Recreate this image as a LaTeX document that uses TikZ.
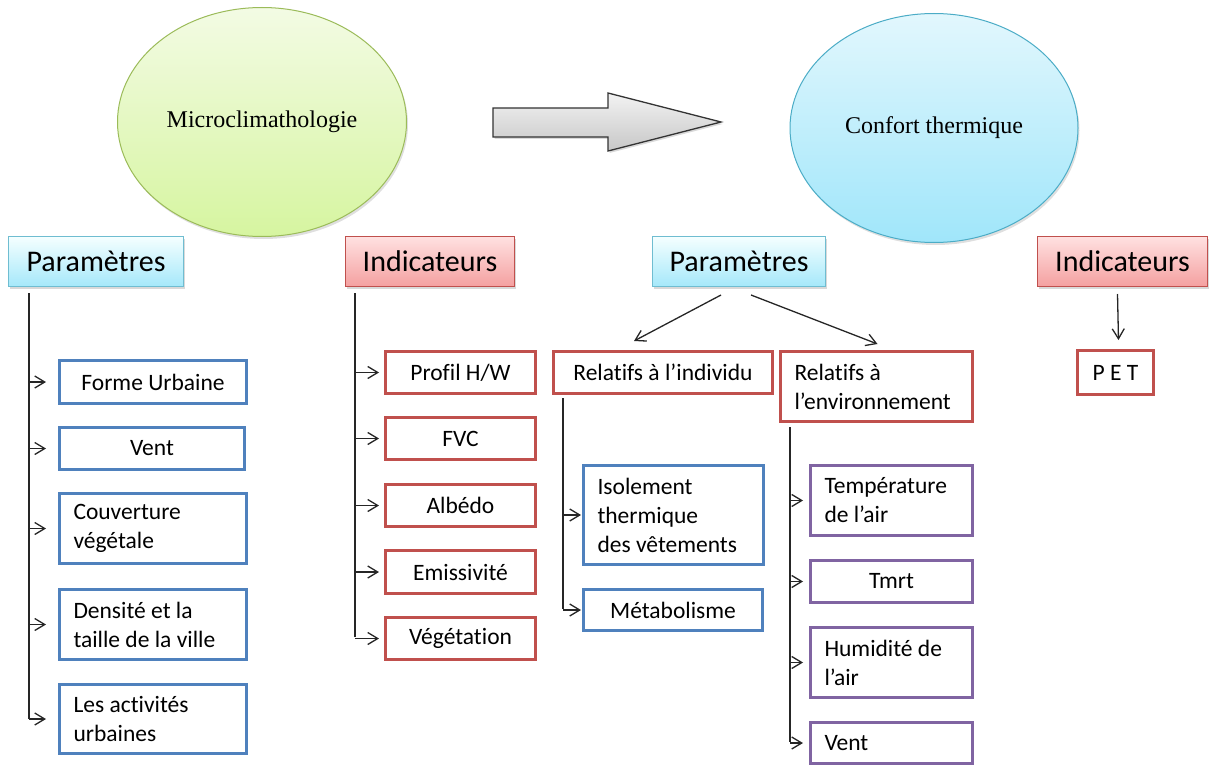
\documentclass[tikz,border=0pt]{standalone}
\usepackage{fontspec}
\setmainfont[Ligatures=NoCommon]{Carlito}
\newfontfamily\tms{Liberation Serif}
\usetikzlibrary{shapes.geometric,arrows.meta,shadows,calc}
\definecolor{bblue}{HTML}{4F81BD}
\definecolor{bred}{HTML}{C0504D}
\definecolor{bpurple}{HTML}{8064A2}
\definecolor{hcyan}{HTML}{4BACC6}
\definecolor{hgreen}{HTML}{9BBB59}
\tikzset{
  conn/.style={draw=black!85, line width=1.3pt, -{Straight Barb[length=10pt,width=12pt,line width=1.3pt]}},
  trunk/.style={draw=black!85, line width=1.3pt},
  boxbase/.style={line width=3pt, fill=white, inner sep=0pt, anchor=north west,
    font=\fontsize{23.5}{29}\selectfont},
  bluebox/.style={boxbase, draw=bblue},
  redbox/.style={boxbase, draw=bred},
  purplebox/.style={boxbase, draw=bpurple},
  lefttext/.style={align=flush left, inner xsep=14pt, execute at begin node={\spaceskip=0pt\xspaceskip=0pt\relax}},
  hdr/.style={anchor=north west, inner sep=0pt, line width=1pt,
    font=\fontsize{30}{36}\selectfont, minimum height=50pt,
    drop shadow={opacity=0.3, shadow xshift=1.5pt, shadow yshift=-2pt}},
  hdrblue/.style={hdr, draw=hcyan!80, top color=cyan!4!white, bottom color={rgb,255:red,165;green,232;blue,250}},
  hdrred/.style={hdr, draw=bred, top color={rgb,255:red,255;green,225;blue,225}, bottom color={rgb,255:red,244;green,160;blue,160}},
}
\begin{document}
\begin{tikzpicture}[x=1pt,y=-1pt]
\useasboundingbox (0,0) rectangle (1211,765);

% ellipses
\node[ellipse, draw=hgreen, line width=1pt, minimum width=289pt, minimum height=229pt,
  top color={rgb,255:red,243;green,251;blue,228}, bottom color={rgb,255:red,214;green,245;blue,160},
  drop shadow={opacity=0.25, shadow xshift=1.5pt, shadow yshift=-2.5pt},
  font=\tms\fontsize{24}{28}\selectfont] (micro) at (262,122) {Microclimathologie};
\node[ellipse, draw=hcyan, line width=1pt, minimum width=288pt, minimum height=229pt,
  top color={rgb,255:red,226;green,247;blue,253}, bottom color={rgb,255:red,160;green,230;blue,250},
  drop shadow={opacity=0.25, shadow xshift=1.5pt, shadow yshift=-2.5pt},
  font=\tms\fontsize{24}{28}\selectfont] (confort) at (934,128) {Confort thermique};

% big arrow
\draw[line width=1.3pt, draw=black!80, top color=black!5, bottom color=black!22,
  drop shadow={opacity=0.3, shadow xshift=1.5pt, shadow yshift=-2pt}]
  (493,108) -- (608,108) -- (608,93) -- (721,122) -- (608,151) -- (608,137) -- (493,137) -- cycle;

% headers
\node[hdrblue, minimum width=175pt] (par1) at (8,236) {Paramètres};
\node[hdrred, minimum width=169pt] (ind1) at (345,236) {Indicateurs};
\node[hdrblue, minimum width=173pt] (par2) at (652,236) {Paramètres};
\node[hdrred, minimum width=170pt] (ind2) at (1037,236) {Indicateurs};

% left column
\node[bluebox, minimum width=187pt, minimum height=43pt] (fu) at (58,359) {Forme Urbaine};
\node[bluebox, minimum width=185pt, minimum height=42pt] (vent1) at (58,426) {Vent};
\node[bluebox, lefttext, text width=159pt, minimum height=70pt] (couv) at (58,492) {Couverture\\végétale};
\node[bluebox, lefttext, text width=159pt, minimum height=70pt] (dens) at (58,588) {Densité et la\\taille de la ville};
\node[bluebox, lefttext, text width=159pt, minimum height=69pt] (act) at (58,683) {Les activités\\urbaines};

\coordinate (t1) at (29,293);
\draw[trunk] (t1) -- (29,719);
\foreach \n in {fu,vent1,couv,dens,act}
  \draw[conn, shorten >=12pt] (t1 |- \n.west) -- (\n.west);

% indicateurs column
\node[redbox, minimum width=150pt, minimum height=42pt] (profil) at (384,350) {Profil H/W};
\node[redbox, minimum width=150pt, minimum height=42pt] (fvc) at (384,416) {FVC};
\node[redbox, minimum width=150pt, minimum height=42pt] (alb) at (384,483) {Albédo};
\node[redbox, minimum width=150pt, minimum height=43pt] (emis) at (384,549) {Emissivité};
\node[redbox, minimum width=150pt, minimum height=42pt] (veg) at (384,616) {Végétation};

\coordinate (t2) at (355,293);
\draw[trunk] (t2) -- (355,637);
\foreach \n in {profil,fvc,alb,emis,veg}
  \draw[conn, shorten >=5pt] (t2 |- \n.west) -- (\n.west);

% parametres confort
\node[redbox, minimum width=219pt, minimum height=42pt] (indiv) at (552,350) {Relatifs à l’individu};
\node[redbox, lefttext, text width=164pt, minimum height=70pt] (envi) at (779,350) {Relatifs à\\l’environnement};
\draw[conn] ($(par2.south)+(-18,8)$) -- ($(indiv.north)+(-29,-9)$);
\draw[conn] ($(par2.south)+(12,8)$) -- ($(envi.north)+(1,-6)$);

\node[bluebox, lefttext, text width=152pt, minimum height=99pt] (isol) at (582,464) {Isolement\\thermique\\des vêtements};
\node[bluebox, minimum width=179pt, minimum height=41pt] (meta) at (582,588) {Métabolisme};
\coordinate (t3) at (563,398);
\draw[trunk] (t3) -- (563,609);
\foreach \n in {isol,meta}
  \draw[conn, shorten >=1pt] (t3 |- \n.west) -- (\n.west);

\node[purplebox, lefttext, text width=134pt, minimum height=70pt] (temp) at (809,464) {Température\\de l’air};
\node[purplebox, minimum width=162pt, minimum height=42pt] (tmrt) at (809,559) {Tmrt};
\node[purplebox, lefttext, text width=134pt, minimum height=70pt] (hum) at (809,626) {Humidité de\\l’air};
\node[purplebox, lefttext, text width=134pt, minimum height=41pt] (vent2) at (809,721) {Vent};
\coordinate (t4) at (790,427);
\draw[trunk] (t4) -- (790,741.5);
\foreach \n in {temp,tmrt,hum,vent2}
  \draw[conn, shorten >=6pt] (t4 |- \n.west) -- (\n.west);

% PET
\node[redbox, minimum width=76pt, minimum height=44pt] (pet) at (1076,349) {P E T};
\draw[conn] ($(ind2.south)+(-5,7)$) -- ($(pet.north)+(3,-9)$);
\end{tikzpicture}
\end{document}
